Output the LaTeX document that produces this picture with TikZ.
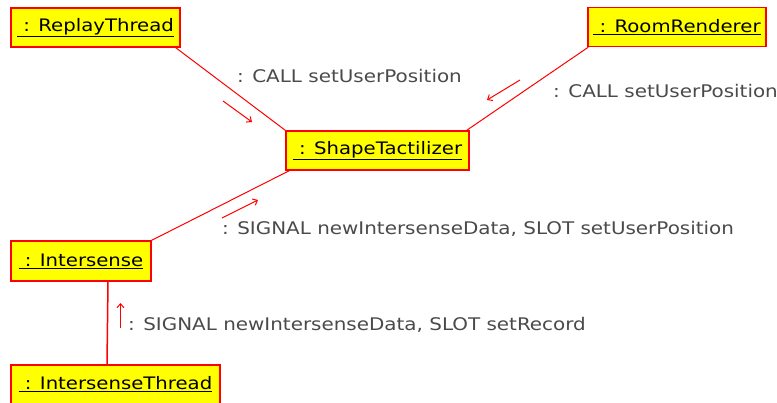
\documentclass[tikz,border=0pt]{standalone}
\usepackage{fontspec}
\setmainfont{DejaVu Sans}[FakeStretch=1.145]
\usetikzlibrary{arrows.meta,calc}
\definecolor{boxyellow}{HTML}{FFFF00}
\definecolor{linered}{HTML}{FF0000}
\definecolor{labelgray}{HTML}{4A4A4A}
\tikzset{
  objbox/.style={draw=linered, fill=boxyellow, line width=1.3pt, inner sep=0pt,
    minimum height=39pt, font=\fontsize{17.2}{19}\selectfont, text=black},
  link/.style={draw=linered, line width=1pt},
  msg/.style={draw=linered, line width=1pt, -{Straight Barb[length=4pt,width=7pt]}},
  msglabel/.style={anchor=west, inner sep=0pt, text=labelgray, font=\fontsize{17.4}{19}\selectfont}
}
\begin{document}
\begin{tikzpicture}[x=1pt,y=-1pt]
\useasboundingbox (0,0) rectangle (777,403);
% objects
\node[objbox, minimum width=169pt] (rt) at (95.5,27.5) {\underline{\ : ReplayThread}};
\node[objbox, minimum width=178pt] (rr) at (677,27) {\underline{\ : RoomRenderer}};
\node[objbox, minimum width=183pt] (st) at (377.5,150.5) {\underline{\ : ShapeTactilizer}};
\node[objbox, minimum width=140pt, minimum height=40pt] (is) at (81,261) {\underline{\ : Intersense}};
\node[objbox, minimum width=209pt] (it) at (115.5,384.5) {\underline{\ : IntersenseThread}};
% links
\draw[link] ($(rt.south east)+(-5,0)$) -- (st.north west);
\draw[link] ($(rr.south west)+(1,0)$) -- ($(st.north east)+(-3,0)$);
\draw[link] (is.north east) -- ($(st.south west)+(4,0)$);
\draw[link, line width=1.5pt] ($(is.south)+(27,0)$) -- ($(it.north)+(-8.5,0)$);
% messages
\coordinate (m1a) at (223,101); \coordinate (m1b) at (252,122);
\draw[msg] (m1a) -- (m1b);
\node[msglabel] (l1) at (237,76) {: CALL setUserPosition};
\coordinate (m2a) at (520,80); \coordinate (m2b) at (487,100);
\draw[msg] (m2a) -- (m2b);
\node[msglabel] (l2) at (553,91) {: CALL setUserPosition};
\coordinate (m3a) at (222,218); \coordinate (m3b) at (258,200);
\draw[msg] (m3a) -- (m3b);
\node[msglabel] (l3) at (222,229) {: SIGNAL newIntersenseData, SLOT setUserPosition};
\coordinate (m4a) at (120.5,328); \coordinate (m4b) at (120.5,303);
\draw[msg] (m4a) -- (m4b);
\node[msglabel] (l4) at (128,325) {: SIGNAL newIntersenseData, SLOT setRecord};
\end{tikzpicture}
\end{document}
